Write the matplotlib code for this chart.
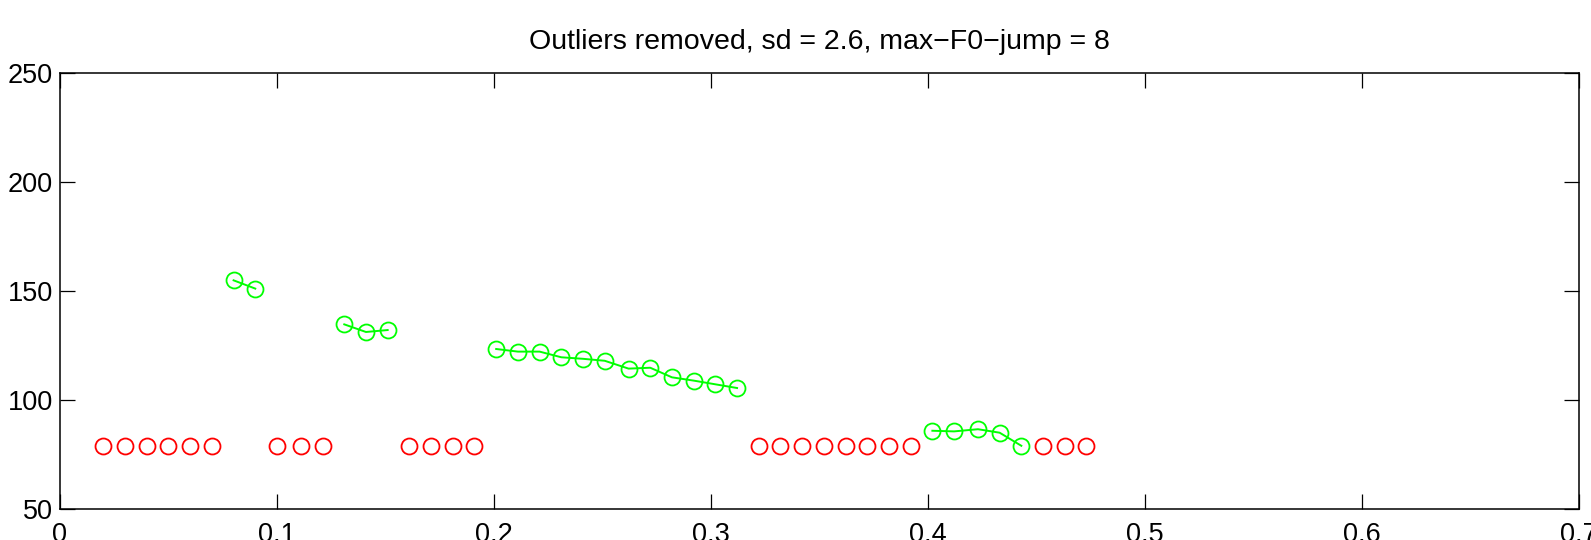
import matplotlib
matplotlib.use("Agg")
import matplotlib.pyplot as plt

plt.rcParams['font.family'] = ['Liberation Sans', 'DejaVu Sans']

title = "Outliers removed, sd = 2.6, max\u2212F0\u2212jump = 8"

# rejected (outlier) frames
red_t = [0.020, 0.030, 0.040, 0.050, 0.060, 0.070,
         0.100, 0.111, 0.121,
         0.161, 0.171, 0.181, 0.191,
         0.322, 0.332, 0.342, 0.352, 0.362, 0.372, 0.382, 0.392,
         0.453, 0.463, 0.473]
red_f0 = [79.0] * len(red_t)

# kept segments
seg1_t = [0.080, 0.090]
seg1_f0 = [154.9, 151.1]
seg2_t = [0.131, 0.141, 0.151]
seg2_f0 = [134.7, 131.2, 132.1]
seg3_t = [0.201, 0.211, 0.221, 0.231, 0.241, 0.251, 0.262, 0.272, 0.282, 0.292, 0.302, 0.312]
seg3_f0 = [123.4, 122.2, 122.2, 119.6, 118.9, 118.0, 114.4, 114.8, 110.4, 108.9, 107.2, 105.5]
seg4_t = [0.402, 0.412, 0.423, 0.433, 0.443]
seg4_f0 = [85.9, 85.6, 86.6, 85.0, 79.0]

xticks = [0, 0.1, 0.2, 0.3, 0.4, 0.5, 0.6, 0.7]
xticklabels = ["0", "0.1", "0.2", "0.3", "0.4", "0.5", "0.6", "0.7"]
yticks = [50, 100, 150, 200, 250]

fig = plt.figure(figsize=(15.91, 5.40), dpi=100)
ax = fig.add_axes([0.0377, 0.0574, 0.9548, 0.8074])

green = '#00ff00'
red = '#ff0000'
ms = 11.5
ax.plot(red_t, red_f0, linestyle='none', marker='o', markersize=ms,
        markerfacecolor='none', markeredgecolor=red, markeredgewidth=1.3)
for t, f in [(seg1_t, seg1_f0), (seg2_t, seg2_f0), (seg3_t, seg3_f0), (seg4_t, seg4_f0)]:
    ax.plot(t, f, color=green, linewidth=1.4, marker='o', markersize=ms,
            markerfacecolor='none', markeredgecolor=green, markeredgewidth=1.3)

ax.set_xlim(0, 0.7)
ax.set_ylim(50, 250)
ax.set_xticks(xticks)
ax.set_xticklabels(xticklabels)
ax.set_yticks(yticks)
ax.tick_params(direction='in', length=10.8, width=0.9, top=True, right=True,
               labelsize=19.5, colors='black')
ax.tick_params(axis='x', pad=9)
ax.tick_params(axis='y', pad=5)
for s in ax.spines.values():
    s.set_linewidth(1.1)
ax.set_title(title, fontsize=20.5, pad=17)

fig.savefig("out.png", dpi=100)
